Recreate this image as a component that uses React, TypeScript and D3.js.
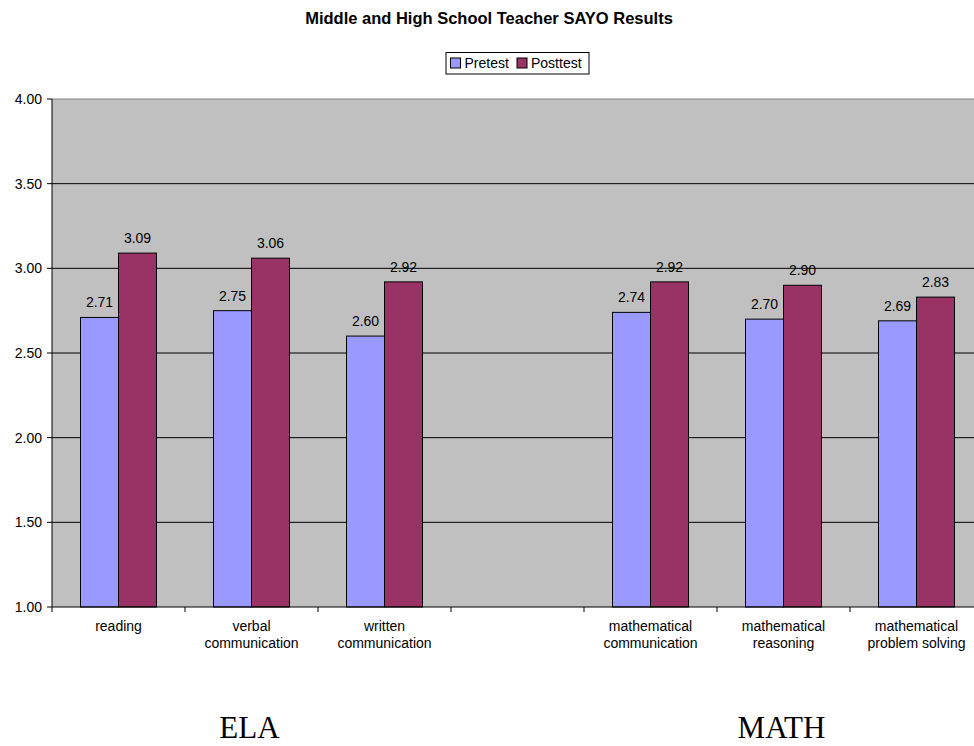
import React from "react";
import * as d3 from "d3";

const categories = [
  "reading",
  "verbal\ncommunication",
  "written\ncommunication",
  "",
  "mathematical\ncommunication",
  "mathematical\nreasoning",
  "mathematical\nproblem solving",
];
const pretest: (number | null)[] = [2.71, 2.75, 2.6, null, 2.74, 2.7, 2.69];
const posttest: (number | null)[] = [3.09, 3.06, 2.92, null, 2.92, 2.9, 2.83];
const yTicks = [1.0, 1.5, 2.0, 2.5, 3.0, 3.5, 4.0];
const seriesNames = ["Pretest", "Posttest"];
const seriesColors = ["#9999FF", "#993366"];
const groupLabels = [
  { text: "ELA", from: 0, to: 2 },
  { text: "MATH", from: 4, to: 6 },
];

const W = 974;
const H = 746;
const left = 52;
const top = 99;
const bottom = 607;
const bandW = 133;
const right = left + bandW * categories.length;
const font = "'Liberation Sans', Arial, sans-serif";

export default function App() {
  const keys = categories.map((_, i) => String(i));
  const x = d3.scaleBand<string>().domain(keys).range([left, right]).paddingInner(0).paddingOuter(0);
  const y = d3.scaleLinear().domain([1, 4]).range([bottom, top]);
  const bw = x.bandwidth();
  const barW = bw / 3.5;
  const off = barW * 0.75;
  const series = [pretest, posttest];

  return (
    <svg
      width={W}
      height={H}
      style={{ position: "absolute", left: 0, top: 0, background: "#fff" }}
      fontFamily={font}
    >
      <text x={489} y={24} textAnchor="middle" fontWeight="bold" fontSize={16.5}>
        Middle and High School Teacher SAYO Results
      </text>
      {/* legend */}
      <g>
        <rect x={446} y={52.5} width={143} height={21.5} fill="#fff" stroke="#000" strokeWidth={1} />
        {seriesNames.map((n, i) => {
          const lx = i === 0 ? 450.5 : 517;
          return (
            <g key={n}>
              <rect x={lx} y={58} width={10} height={10} fill={seriesColors[i]} stroke="#000" strokeWidth={1} />
              <text x={lx + 14} y={68} fontSize={14}>
                {n}
              </text>
            </g>
          );
        })}
      </g>
      {/* plot area */}
      <rect x={left} y={top} width={right - left} height={bottom - top} fill="#C0C0C0" />
      {yTicks.map((t) => (
        <g key={t}>
          {t > 1 && t < 4 && (
            <line x1={left} x2={right} y1={y(t)} y2={y(t)} stroke="#000" strokeWidth={1} />
          )}
          <line x1={left - 5} x2={left} y1={y(t)} y2={y(t)} stroke="#000" strokeWidth={1} />
          <text x={42} y={y(t) + 5} textAnchor="end" fontSize={14}>
            {d3.format(".2f")(t)}
          </text>
        </g>
      ))}
      <line x1={left} x2={right} y1={top} y2={top} stroke="#808080" strokeWidth={1} />
      {/* bars */}
      {series.map((vals, si) =>
        vals.map((v, ci) =>
          v == null ? null : (
            <g key={`${si}-${ci}`}>
              <rect
                x={(x(String(ci)) as number) + off + si * barW}
                y={y(v)}
                width={barW}
                height={bottom - y(v)}
                fill={seriesColors[si]}
                stroke="#000"
                strokeWidth={1}
              />
              <text
                x={(x(String(ci)) as number) + off + si * barW + barW / 2}
                y={y(v) - 10}
                textAnchor="middle"
                fontSize={14}
              >
                {d3.format(".2f")(v)}
              </text>
            </g>
          )
        )
      )}
      {/* axes */}
      <line x1={left} x2={left} y1={top} y2={bottom} stroke="#000" strokeWidth={1} />
      <line x1={left} x2={right} y1={bottom} y2={bottom} stroke="#000" strokeWidth={1} />
      {keys.map((k) => (
        <line
          key={k}
          x1={x(k) as number}
          x2={x(k) as number}
          y1={bottom}
          y2={bottom + 5}
          stroke="#000"
          strokeWidth={1}
        />
      ))}
      {categories.map((c, i) => (
        <text key={i} textAnchor="middle" fontSize={14}>
          {c.split("\n").map((line, li) => (
            <tspan key={li} x={(x(String(i)) as number) + bw / 2} y={631 + li * 17}>
              {line}
            </tspan>
          ))}
        </text>
      ))}
      {groupLabels.map((g) => {
        const cx =
          ((x(String(g.from)) as number) + (x(String(g.to)) as number) + bw) / 2 - 2;
        return (
          <text
            key={g.text}
            x={cx}
            y={738}
            textAnchor="middle"
            fontSize={31}
            fontFamily="'Liberation Serif', 'Times New Roman', serif"
          >
            {g.text}
          </text>
        );
      })}
    </svg>
  );
}
